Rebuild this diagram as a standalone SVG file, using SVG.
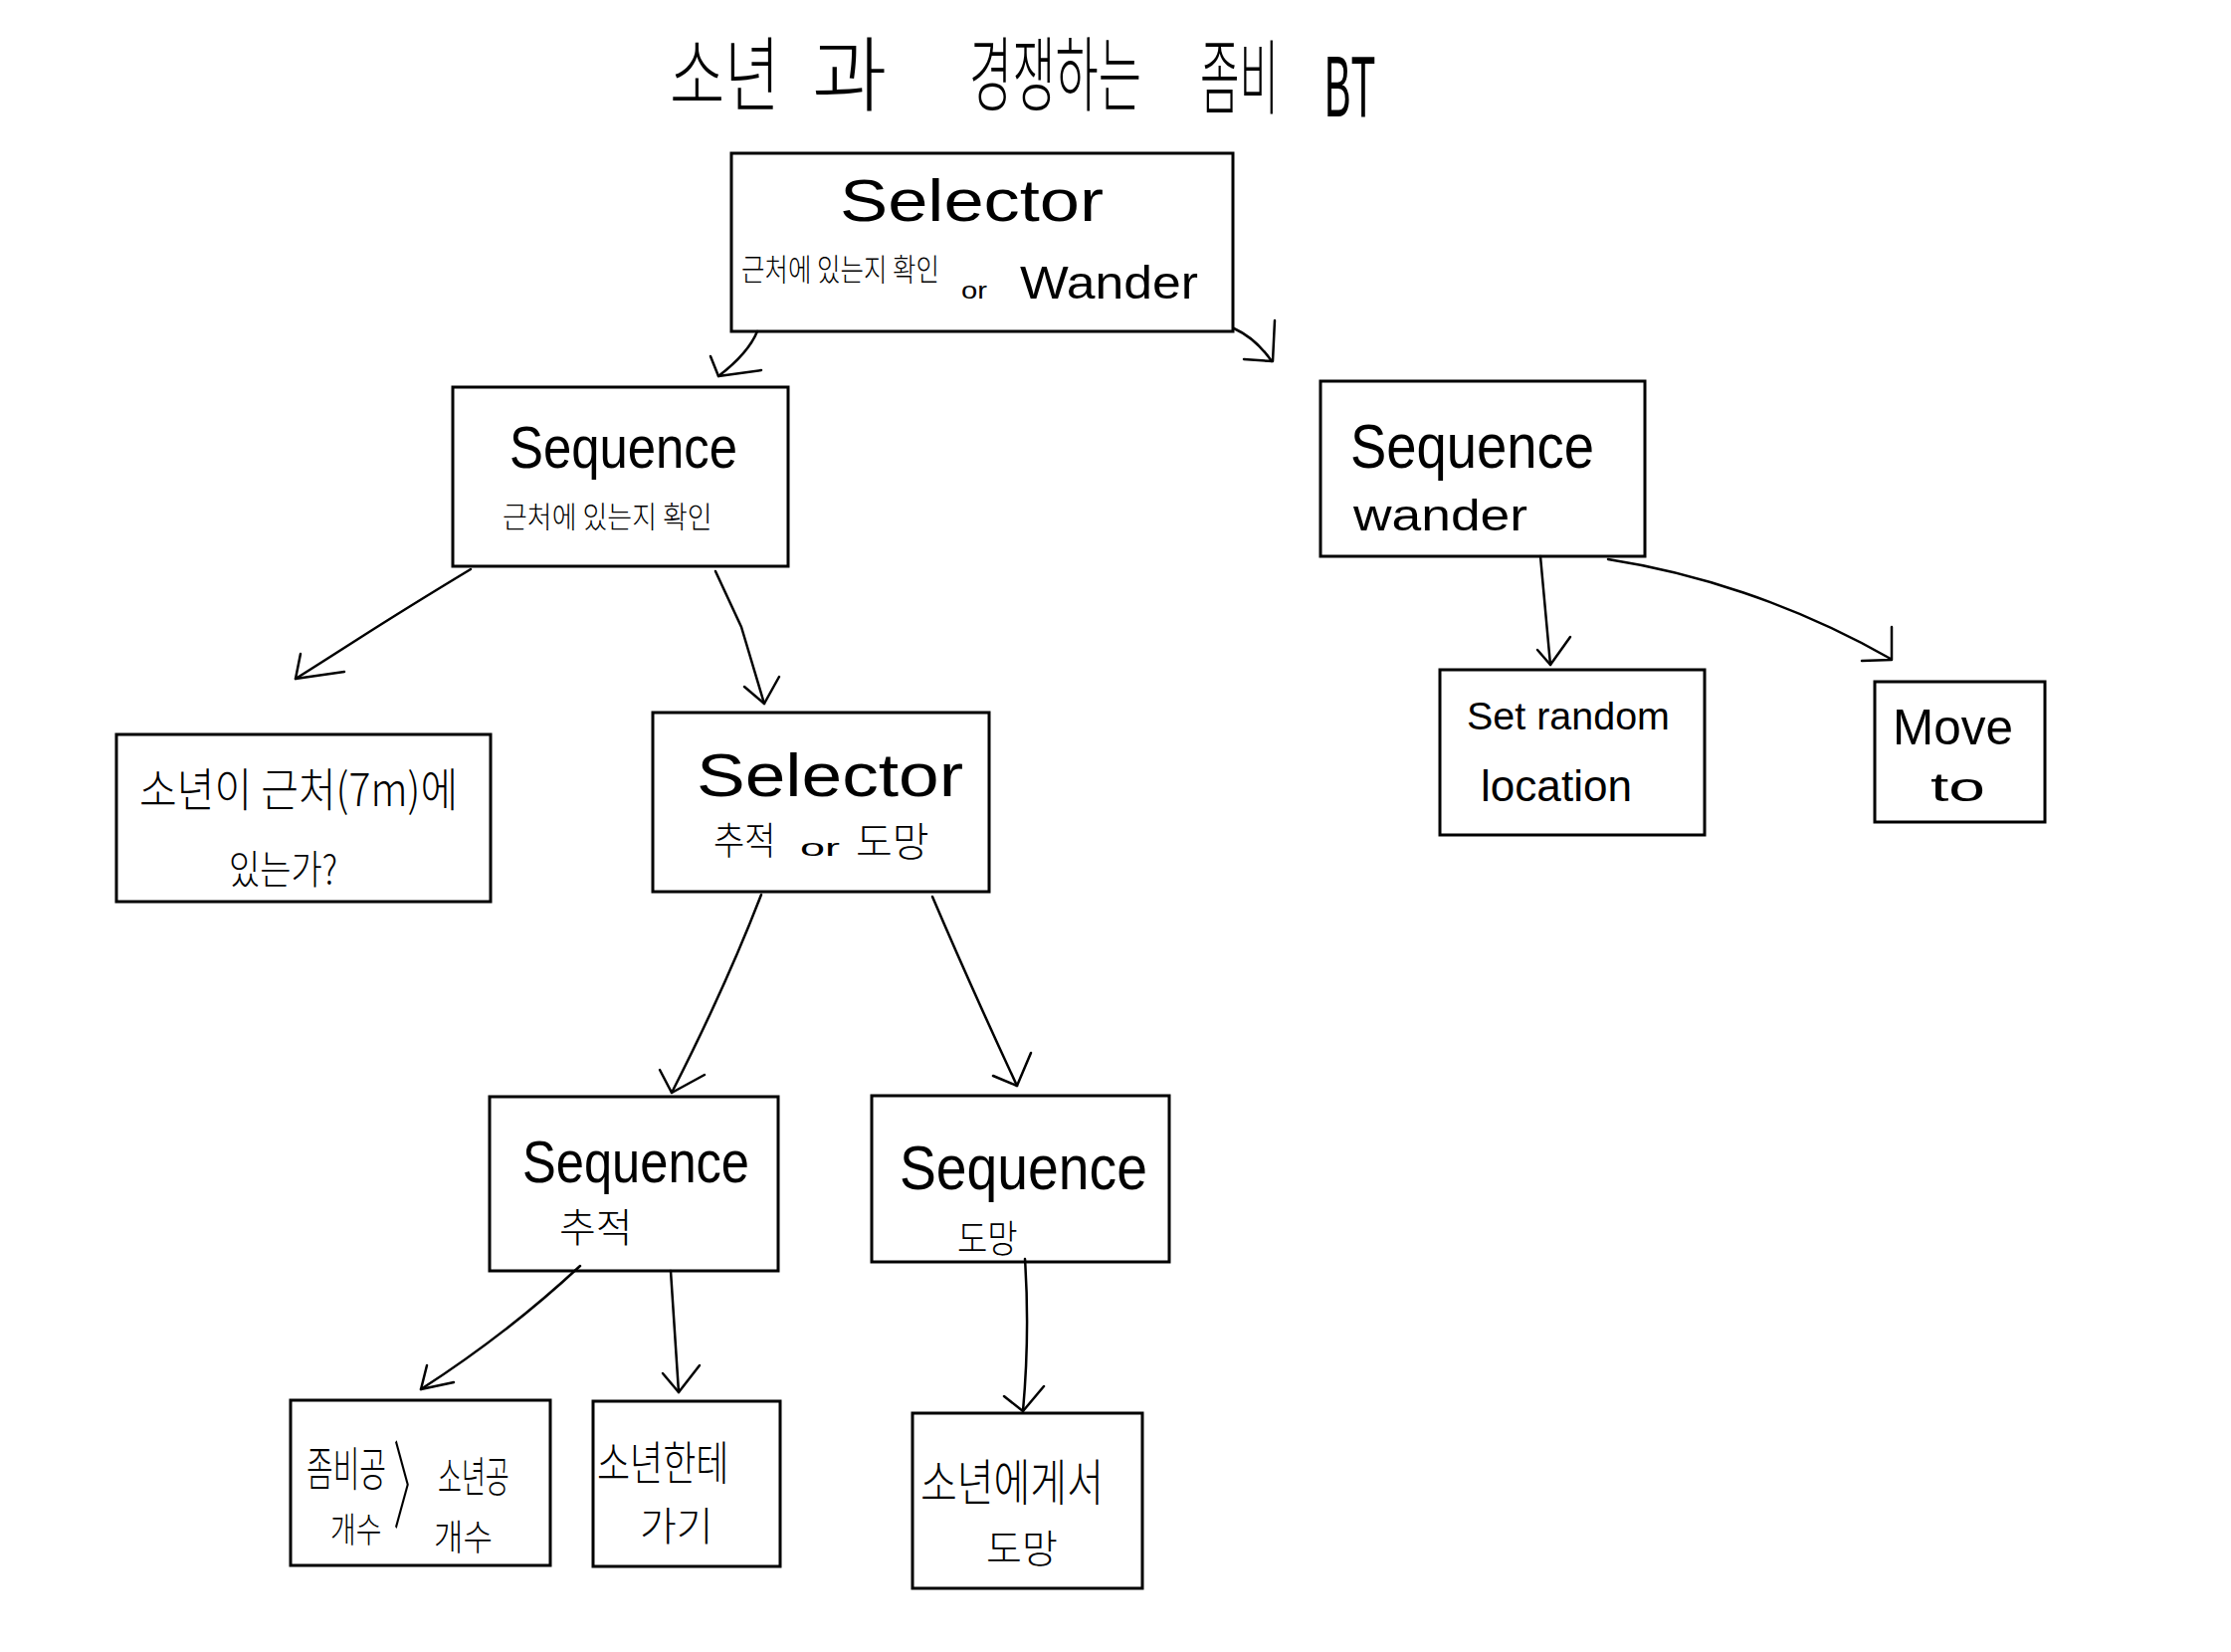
<svg xmlns="http://www.w3.org/2000/svg" width="2242" height="1660" viewBox="0 0 2242 1660">
<style>
.bg{fill:#fff}
.box{fill:none;stroke:#000;stroke-width:3}
.c{fill:none;stroke:#000;stroke-width:2.5;stroke-linecap:round;stroke-linejoin:round}
.t{font-family:"Noto Sans CJK KR","Liberation Sans",sans-serif;font-weight:300;fill:#000}
.l{font-family:"Liberation Sans","Noto Sans",sans-serif;font-weight:300;fill:#000}
</style>
<rect class="bg" x="0" y="0" width="2242" height="1660"/>
<g id="title">
<text class="t" transform="translate(673,105) scale(1,1.37)" font-size="60">소년</text>
<text class="t" x="816" y="105" font-size="82">과</text>
<text class="t" transform="translate(974,105) scale(1,1.74)" font-size="47">경쟁하는</text>
<text class="t" transform="translate(1206,108) scale(1,1.9)" font-size="43">좀비</text>
<text class="l" transform="translate(1331,117) scale(1,2.2)" font-size="40">BT</text>
</g>
<g id="connectors">
<path class="c" d="M761,333 Q752,355 722,378"/><path class="c" d="M714,358 L722,378 L765,372"/>
<path class="c" d="M1240,330 Q1262,340 1278,363"/><path class="c" d="M1281,322 L1279,363 L1250,361"/>
<path class="c" d="M473,572 Q410,610 360,642 T297,682"/><path class="c" d="M302,657 L297,682 L346,675"/>
<path class="c" d="M719,574 L745,630 L768,707"/><path class="c" d="M748,690 L768,707 L783,680"/>
<path class="c" d="M765,899 Q730,990 675,1098"/><path class="c" d="M663,1075 L675,1098 L708,1080"/>
<path class="c" d="M937,901 Q975,990 1022,1091"/><path class="c" d="M998,1081 L1022,1091 L1036,1058"/>
<path class="c" d="M583,1272 Q510,1340 423,1396"/><path class="c" d="M429,1372 L423,1396 L456,1389"/>
<path class="c" d="M674,1277 L682,1399"/><path class="c" d="M666,1380 L682,1399 L703,1372"/>
<path class="c" d="M1030,1265 Q1035,1340 1028,1418"/><path class="c" d="M1009,1403 L1028,1418 L1049,1393"/>
<path class="c" d="M1548,559 L1558,668"/><path class="c" d="M1545,653 L1558,668 L1578,640"/>
<path class="c" d="M1616,562 C1700,575 1800,605 1900,662"/><path class="c" d="M1901,630 L1901,663 L1871,664"/>
</g>
<g id="selector-root">
<rect class="box" x="735" y="154" width="504" height="179"/>
<text class="l" x="844" y="222" font-size="60" textLength="265" lengthAdjust="spacingAndGlyphs">Selector</text>
<text class="t" transform="translate(745,282) scale(1,1.2)" font-size="25.5">근처에 있는지 확인</text>
<text class="l" x="966" y="300" font-size="24" textLength="26" lengthAdjust="spacingAndGlyphs">or</text>
<text class="l" x="1025" y="300" font-size="46" textLength="179" lengthAdjust="spacingAndGlyphs">Wander</text>
</g>
<g id="sequence-near">
<rect class="box" x="455" y="389" width="337" height="180"/>
<text class="l" transform="translate(512,470) scale(1,1.15)" font-size="51" textLength="229" lengthAdjust="spacingAndGlyphs">Sequence</text>
<text class="t" transform="translate(505,530) scale(1,1.11)" font-size="27">근처에 있는지 확인</text>
</g>
<g id="sequence-wander">
<rect class="box" x="1327" y="383" width="326" height="176"/>
<text class="l" transform="translate(1357,470) scale(1,1.15)" font-size="54" textLength="245" lengthAdjust="spacingAndGlyphs">Sequence</text>
<text class="l" x="1360" y="533" font-size="44" textLength="175" lengthAdjust="spacingAndGlyphs">wander</text>
</g>
<g id="condition-near">
<rect class="box" x="117" y="738" width="376" height="168"/>
<text class="t" transform="translate(140,810) scale(1,1.12)" font-size="41">소년이 근처(7m)에</text>
<text class="t" transform="translate(230,888) scale(1,1.18)" font-size="34">있는가?</text>
</g>
<g id="selector-chase">
<rect class="box" x="656" y="716" width="338" height="180"/>
<text class="l" x="700" y="800" font-size="62" textLength="268" lengthAdjust="spacingAndGlyphs">Selector</text>
<text class="t" transform="translate(717,858) scale(1,1.12)" font-size="34">추적</text>
<text class="l" x="804" y="860" font-size="24" textLength="40" lengthAdjust="spacingAndGlyphs">or</text>
<text class="t" x="860" y="860" font-size="40">도망</text>
</g>
<g id="set-random-location">
<rect class="box" x="1447" y="673" width="266" height="166"/>
<text class="l" x="1474" y="733" font-size="38" textLength="204" lengthAdjust="spacingAndGlyphs">Set random</text>
<text class="l" x="1488" y="805" font-size="44" textLength="152" lengthAdjust="spacingAndGlyphs">location</text>
</g>
<g id="move-to">
<rect class="box" x="1884" y="685" width="171" height="141"/>
<text class="l" x="1902" y="748" font-size="50" textLength="121" lengthAdjust="spacingAndGlyphs">Move</text>
<text class="l" x="1940" y="805" font-size="40" textLength="55" lengthAdjust="spacingAndGlyphs">to</text>
</g>
<g id="sequence-chase">
<rect class="box" x="492" y="1102" width="290" height="175"/>
<text class="l" transform="translate(525,1188) scale(1,1.15)" font-size="51" textLength="228" lengthAdjust="spacingAndGlyphs">Sequence</text>
<text class="t" x="562" y="1248" font-size="40">추적</text>
</g>
<g id="sequence-flee">
<rect class="box" x="876" y="1101" width="299" height="167"/>
<text class="l" transform="translate(904,1195) scale(1,1.15)" font-size="55" textLength="249" lengthAdjust="spacingAndGlyphs">Sequence</text>
<text class="t" transform="translate(962,1258) scale(1,1.15)" font-size="33">도망</text>
</g>
<g id="condition-balls">
<rect class="box" x="292" y="1407" width="261" height="166"/>
<text class="t" transform="translate(308,1493) scale(1,1.6)" font-size="29">좀비공</text>
<text class="t" transform="translate(332,1550) scale(1,1.25)" font-size="28">개수</text>
<text class="t" transform="translate(395,1528) scale(1,2.4)" font-size="40">〉</text>
<text class="t" transform="translate(440,1500) scale(1,1.65)" font-size="26">소년공</text>
<text class="t" transform="translate(436,1558) scale(1,1.15)" font-size="32">개수</text>
</g>
<g id="go-to-boy">
<rect class="box" x="596" y="1408" width="188" height="166"/>
<text class="t" transform="translate(600,1487) scale(1,1.28)" font-size="36">소년한테</text>
<text class="t" x="643" y="1548" font-size="40">가기</text>
</g>
<g id="flee-from-boy">
<rect class="box" x="917" y="1420" width="231" height="176"/>
<text class="t" transform="translate(925,1508) scale(1,1.25)" font-size="40">소년에게서</text>
<text class="t" x="991" y="1570" font-size="39">도망</text>
</g>
</svg>
